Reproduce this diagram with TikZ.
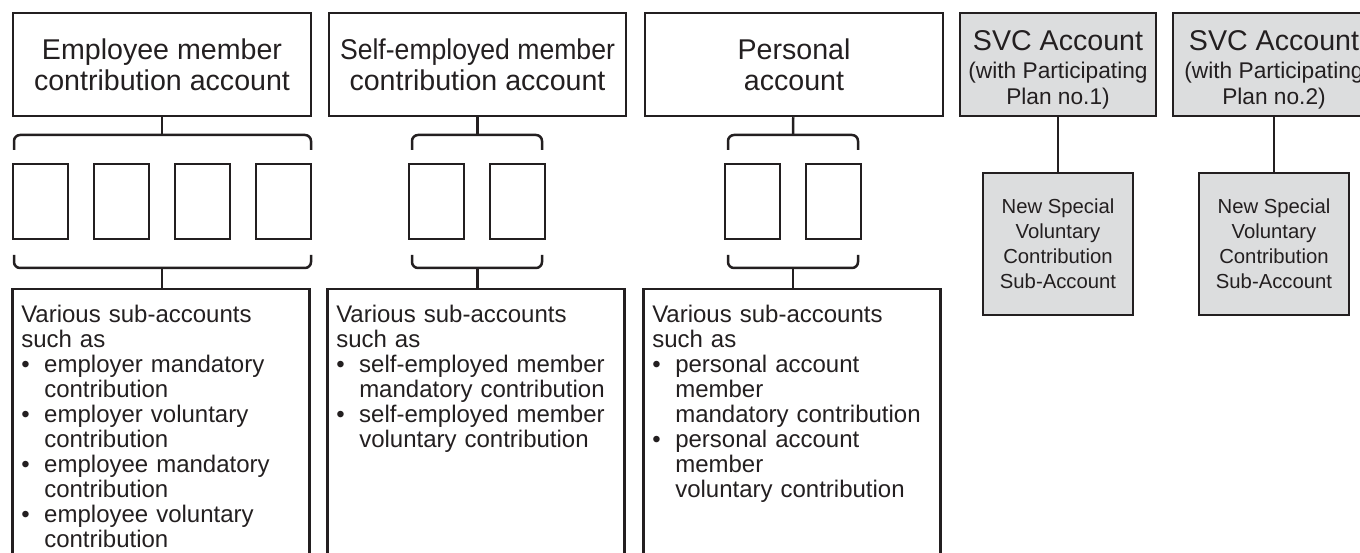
\documentclass[tikz,border=0pt]{standalone}
\usepackage{fontspec}
\setmainfont{Liberation Sans}
\usepackage{graphicx}

\definecolor{ink}{HTML}{231F20}
\definecolor{svcgray}{HTML}{DCDDDE}

\newcommand{\bul}[1]{\par\hangindent=23pt\hangafter=1\noindent\makebox[23pt][l]{\textbullet}#1\par}

\tikzset{
  hdr/.style={draw=ink, line width=2.5pt, minimum height=103pt, inner sep=0pt,
    align=center, text=ink, font=\fontsize{28.6}{31}\selectfont},
  slot/.style={draw=ink, line width=2.5pt, minimum width=55pt, minimum height=75pt, inner sep=0pt},
  brk/.style={draw=ink, line width=2.5pt, rounded corners=6pt},
  link/.style={draw=ink, line width=2.5pt},
  sublist/.style={draw=ink, line width=2.5pt, anchor=north west, align=left, text=ink,
    text width=279pt, inner xsep=9pt, inner ysep=15.5pt, text depth=300pt,
    font=\fontsize{24}{25}\selectfont},
  svc/.style={hdr, fill=svcgray, font=\fontsize{22.7}{25}\selectfont},
  svcsub/.style={draw=ink, line width=2.5pt, fill=svcgray, minimum width=150pt,
    minimum height=142pt, align=center, text=ink, font=\fontsize{20.3}{25}\selectfont},
}

\begin{document}
\begin{tikzpicture}[x=1pt,y=1pt]
  \useasboundingbox (0,0) rectangle (1360,-553);

  % account boxes
  \node[hdr, minimum width=298pt] (emp) at (162,-64.5) {Employee member\\contribution account};
  \node[hdr, minimum width=297pt] (self) at (477.5,-64.5) {\scalebox{0.93}[1]{Self-employed member}\\contribution account};
  \node[hdr, minimum width=298pt] (pers) at (794,-64.5) {Personal\\account};

  % member slots
  \foreach \i/\x in {1/40.5,2/121.5,3/202.5,4/283.5}
    \node[slot] (e\i) at (\x,-201.5) {};
  \node[slot] (s1) at (436.5,-201.5) {};
  \node[slot] (s2) at (517.5,-201.5) {};
  \node[slot] (p1) at (752.5,-201.5) {};
  \node[slot] (p2) at (833.5,-201.5) {};

  % brackets
  \coordinate (etop) at (162,-135);
  \coordinate (ebot) at (162,-268);
  \coordinate (stop) at (477.5,-135);
  \coordinate (sbot) at (477.5,-268);
  \coordinate (ptop) at (793,-135);
  \coordinate (pbot) at (793,-268);
  \draw[brk] (14,-150) |- (etop) -| (311,-150);
  \draw[brk] (14,-255) |- (ebot) -| (311,-255);
  \draw[brk] (412,-150) |- (stop) -| (542,-150);
  \draw[brk] (412,-255) |- (sbot) -| (542,-255);
  \draw[brk] (728,-150) |- (ptop) -| (858,-150);
  \draw[brk] (728,-255) |- (pbot) -| (858,-255);

  % sub-account lists
  \node[sublist] (emplist) at (11,-288) {Various sub-accounts\\such as
    \bul{employer mandatory\newline contribution}
    \bul{employer voluntary\newline contribution}
    \bul{employee mandatory\newline contribution}
    \bul{employee voluntary\newline contribution}};
  \node[sublist] (selflist) at (326,-288) {Various sub-accounts\\such as
    \bul{self-employed member\newline mandatory contribution}
    \bul{self-employed member\newline voluntary contribution}};
  \node[sublist] (perslist) at (642,-288) {Various sub-accounts\\such as
    \bul{personal account\newline member\newline mandatory contribution}
    \bul{personal account\newline member\newline voluntary contribution}};

  \draw[link] (emp) -- (etop);
  \draw[link] (self) -- (stop);
  \draw[link] (pers) -- (ptop);
  \draw[link] (ebot) -- (ebot |- emplist.north);
  \draw[link] (sbot) -- (sbot |- selflist.north);
  \draw[link] (pbot) -- (pbot |- perslist.north);

  % SVC accounts
  \node[svc, minimum width=196pt] (svc1) at (1058,-64.5) {{\fontsize{28.6}{31}\selectfont\rule{0pt}{31pt}SVC Account}\\[3pt](with Participating\\[1pt]Plan no.1)};
  \node[svc, minimum width=202pt] (svc2) at (1274,-64.5) {{\fontsize{28.6}{31}\selectfont\rule{0pt}{31pt}SVC Account}\\[3pt](with Participating\\[1pt]Plan no.2)};
  \node[svcsub] (new1) at (1058,-244) {New Special\\Voluntary\\Contribution\\Sub-Account};
  \node[svcsub] (new2) at (1274,-244) {New Special\\Voluntary\\Contribution\\Sub-Account};
  \draw[link] (svc1) -- (new1);
  \draw[link] (svc2) -- (new2);
\end{tikzpicture}
\end{document}
